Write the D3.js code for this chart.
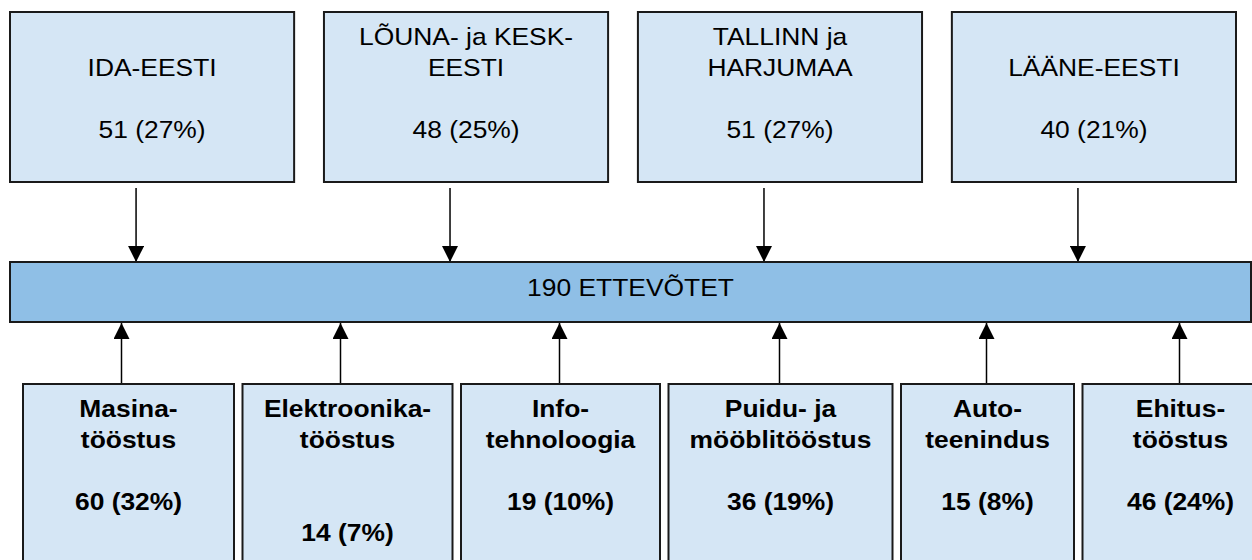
<!DOCTYPE html>
<html>
<head>
<meta charset="utf-8">
<script src="https://cdn.jsdelivr.net/npm/d3@7"></script>
<style>
  body { margin: 0; background: #ffffff; }
  svg { display: block; }
  text { font-family: "Liberation Sans", Arial, sans-serif; fill: #000000; }
</style>
</head>
<body>
<div id="graph"></div>
<script>

// regions (top row)
const regionLabels = [
  ["IDA-EESTI"],
  ["LÕUNA- ja KESK-", "EESTI"],
  ["TALLINN ja", "HARJUMAA"],
  ["LÄÄNE-EESTI"]
];
const regionCounts = [51, 48, 51, 40];
const regionShares = [27, 25, 27, 21];

// total in the middle
const totalCount = 190;
const totalLabel = "ETTEVÕTET";

// sectors (bottom row)
const sectorLabels = [
  ["Masina-", "tööstus"],
  ["Elektroonika-", "tööstus", ""],
  ["Info-", "tehnoloogia"],
  ["Puidu- ja", "mööblitööstus"],
  ["Auto-", "teenindus"],
  ["Ehitus-", "tööstus"]
];
const sectorCounts = [60, 14, 19, 36, 15, 46];
const sectorShares = [32, 7, 10, 19, 8, 24];

// layout (relative widths of the bottom boxes)
const sectorSlots = [211, 210, 199, 224, 173, 196];

var width = 1252, height = 560;
var lineH = 31, fontSize = 24, stretch = 1.1;
var boxFill = "#d5e6f5", barFill = "#8fbfe6", edge = "#1a1a1a";

var svg = d3.select("#graph").append("svg")
    .attr("width", width)
    .attr("height", height);

var defs = svg.append("defs");
defs.append("marker")
    .attr("id", "head")
    .attr("markerUnits", "userSpaceOnUse")
    .attr("viewBox", "0 0 16 16")
    .attr("refX", 16)
    .attr("refY", 8)
    .attr("markerWidth", 16)
    .attr("markerHeight", 16)
    .attr("orient", "auto")
  .append("path")
    .attr("d", "M0,0 L16,8 L0,16 Z")
    .attr("fill", "#000");

// rows
var row = {
  topY: 12, topH: 170,
  barY: 262, barH: 60,
  botY: 384, botH: 230
};

var xTop = d3.scaleBand()
    .domain(d3.range(regionLabels.length))
    .range([10, 1236])
    .paddingInner(0.095);

var gap = 8.5;
var starts = [0];
sectorSlots.forEach(function(w, i) { starts.push(starts[i] + w + gap); });
var xBot = d3.scaleLinear()
    .domain([0, 1])
    .range([23, 24]);

function textLines(g, cx, y0, lines, bold) {
  lines.forEach(function(s, i) {
    if (s === "") return;
    g.append("text")
      .attr("transform", "translate(" + cx + "," + (y0 + i * lineH) + ") scale(" + stretch + ",1)")
      .attr("text-anchor", "middle")
      .attr("font-size", fontSize + "px")
      .attr("font-weight", bold ? "bold" : "normal")
      .text(s);
  });
}

// top boxes
var topRow = svg.append("g");
regionLabels.forEach(function(lab, i) {
  var x0 = xTop(i), w = xTop.bandwidth();
  topRow.append("rect")
    .attr("x", x0).attr("y", row.topY)
    .attr("width", w).attr("height", row.topH)
    .attr("fill", boxFill)
    .attr("stroke", edge)
    .attr("stroke-width", 2);
  // label lines sit in two slots, bottom aligned
  var lines = lab.length === 1 ? ["", lab[0]] : lab.slice();
  lines.push("");
  lines.push(regionCounts[i] + " (" + regionShares[i] + "%)");
  textLines(topRow, x0 + w / 2, row.topY + 33, lines, false);

  var ax = x0 + w / 2 - 16;
  topRow.append("line")
    .attr("x1", ax).attr("y1", row.topY + row.topH + 6)
    .attr("x2", ax).attr("y2", row.barY)
    .attr("stroke", "#000")
    .attr("stroke-width", 1.5)
    .attr("marker-end", "url(#head)");
});

// middle bar
svg.append("rect")
  .attr("x", 10).attr("y", row.barY)
  .attr("width", 1241).attr("height", row.barH)
  .attr("fill", barFill)
  .attr("stroke", edge)
  .attr("stroke-width", 2);

svg.append("text")
  .attr("transform", "translate(" + (10 + 1241 / 2) + "," + (row.barY + 34) + ") scale(" + stretch + ",1)")
  .attr("text-anchor", "middle")
  .attr("font-size", fontSize + "px")
  .text(totalCount + " " + totalLabel);

// bottom boxes
var botRow = svg.append("g");
sectorLabels.forEach(function(lab, i) {
  var x0 = xBot(starts[i]), w = sectorSlots[i];
  botRow.append("rect")
    .attr("x", x0).attr("y", row.botY)
    .attr("width", w).attr("height", row.botH)
    .attr("fill", boxFill)
    .attr("stroke", edge)
    .attr("stroke-width", 2);
  var lines = lab.slice();
  lines.push("");
  lines.push(sectorCounts[i] + " (" + sectorShares[i] + "%)");
  textLines(botRow, x0 + w / 2, row.botY + 33, lines, true);

  var ax = x0 + w / 2 - (i < 2 ? 7 : 1);
  botRow.append("line")
    .attr("x1", ax).attr("y1", row.botY - 1)
    .attr("x2", ax).attr("y2", row.barY + row.barH + 1)
    .attr("stroke", "#000")
    .attr("stroke-width", 1.5)
    .attr("marker-end", "url(#head)");
});

</script>
</body>
</html>
